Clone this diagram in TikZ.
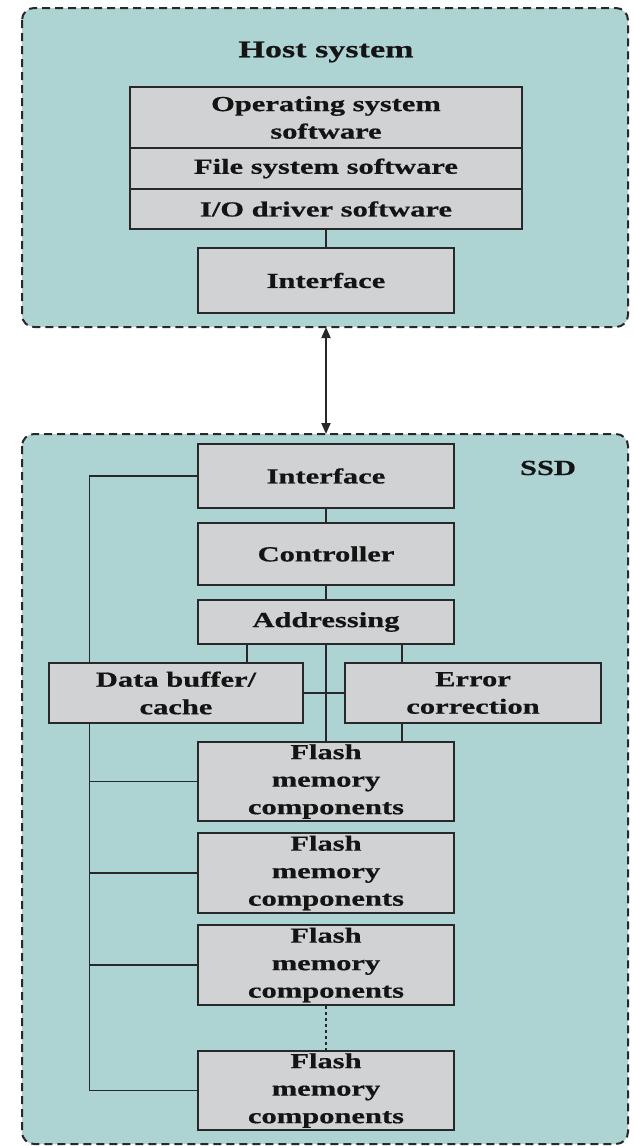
\documentclass[tikz,border=0pt]{standalone}
\usepackage{fontspec}
\setmainfont{Liberation Serif}[FakeStretch=1.42, BoldFeatures={FakeBold=0.6}]
\usetikzlibrary{arrows.meta}
\definecolor{panel}{RGB}{174,211,211}
\definecolor{boxfill}{RGB}{209,210,212}
\definecolor{edge}{RGB}{40,40,42}
\tikzset{
  panelbox/.style={draw=edge, line width=2pt, dash pattern=on 8pt off 5pt, fill=panel, rounded corners=12pt},
  blk/.style={draw=edge, line width=2.2pt, fill=boxfill, inner sep=0pt, align=center,
              font=\fontsize{21.5}{27.5}\selectfont\bfseries, text=black!92},
  wire/.style={draw=edge, line width=1.8pt},
  title/.style={font=\fontsize{21.5}{27}\selectfont\bfseries, text=black!92, inner sep=0pt}
}
\begin{document}
\begin{tikzpicture}[x=1pt,y=-1pt]
\useasboundingbox (0,0) rectangle (632,1146);

% enclosing panels
\path[panelbox] (22,8) rectangle (628,327);
\path[panelbox] (22,434) rectangle (628,1144);

% host side
\node[title, font=\fontsize{24}{28}\selectfont\bfseries] (hostlbl) at (326,52) {Host system};
\node[blk, minimum width=392pt, minimum height=61pt] (os) at (326,117.5) {Operating system\\software};
\node[blk, minimum width=392pt, minimum height=41pt] (fs) at (326,168.5) {File system software};
\node[blk, minimum width=392pt, minimum height=40pt] (io) at (326,209) {I/O driver software};
\node[blk, minimum width=256pt, minimum height=65pt] (hif) at (326,280.5) {Interface};
\draw[wire] (io.south) -- (hif.north);

% link between host and drive
\coordinate (hostbot) at (326,327);
\coordinate (ssdtop) at (326,434);
\draw[wire, {Triangle[length=11pt,width=9pt]}-{Triangle[length=11pt,width=9pt]}] (hostbot) -- (ssdtop);

% drive side
\node[title] (ssdlbl) at (548,468) {SSD};
\node[blk, minimum width=256pt, minimum height=64pt] (sif) at (326,476) {Interface};
\node[blk, minimum width=256pt, minimum height=62pt] (ctrl) at (326,554) {Controller};
\node[blk, minimum width=256pt, minimum height=44pt] (addr) at (326,622) {Addressing};
\node[blk, minimum width=254pt, minimum height=60pt] (dbuf) at (176,693) {Data buffer/\\cache};
\node[blk, minimum width=256pt, minimum height=60pt] (ecc) at (473,693) {Error\\correction};
\node[blk, minimum width=256pt, minimum height=79pt] (f1) at (326,781.5) {Flash\\memory\\components};
\node[blk, minimum width=256pt, minimum height=80pt] (f2) at (326,873) {Flash\\memory\\components};
\node[blk, minimum width=256pt, minimum height=80pt] (f3) at (326,965) {Flash\\memory\\components};
\node[blk, minimum width=256pt, minimum height=79pt] (f4) at (326,1090.5) {Flash\\memory\\components};

\draw[wire] (sif.south) -- (ctrl.north);
\draw[wire] (ctrl.south) -- (addr.north);
\draw[wire] ([xshift=-79pt]addr.south) -- ([xshift=-79pt]addr.south |- dbuf.north);
\draw[wire] ([xshift=76pt]addr.south) -- ([xshift=76pt]addr.south |- ecc.north);
\draw[wire] ([xshift=76pt]addr.south |- ecc.south) -- ([xshift=76pt]addr.south |- f1.north);
\draw[wire] (addr.south) -- (f1.north);
\draw[wire] (dbuf.east) -- (ecc.west);
\draw[edge, line width=1.8pt, dash pattern=on 3pt off 3pt] (f3.south) -- (f4.north);

% shared bus on the left
\coordinate (bus) at (89.5,0);
\draw[wire] (sif.west) -- (sif.west -| bus) -- (bus |- dbuf.north);
\draw[wire] (bus |- dbuf.south) -- (f4.west -| bus) -- (f4.west);
\draw[wire] (f1.west -| bus) -- (f1.west);
\draw[wire] (f2.west -| bus) -- (f2.west);
\draw[wire] (f3.west -| bus) -- (f3.west);
\end{tikzpicture}
\end{document}
